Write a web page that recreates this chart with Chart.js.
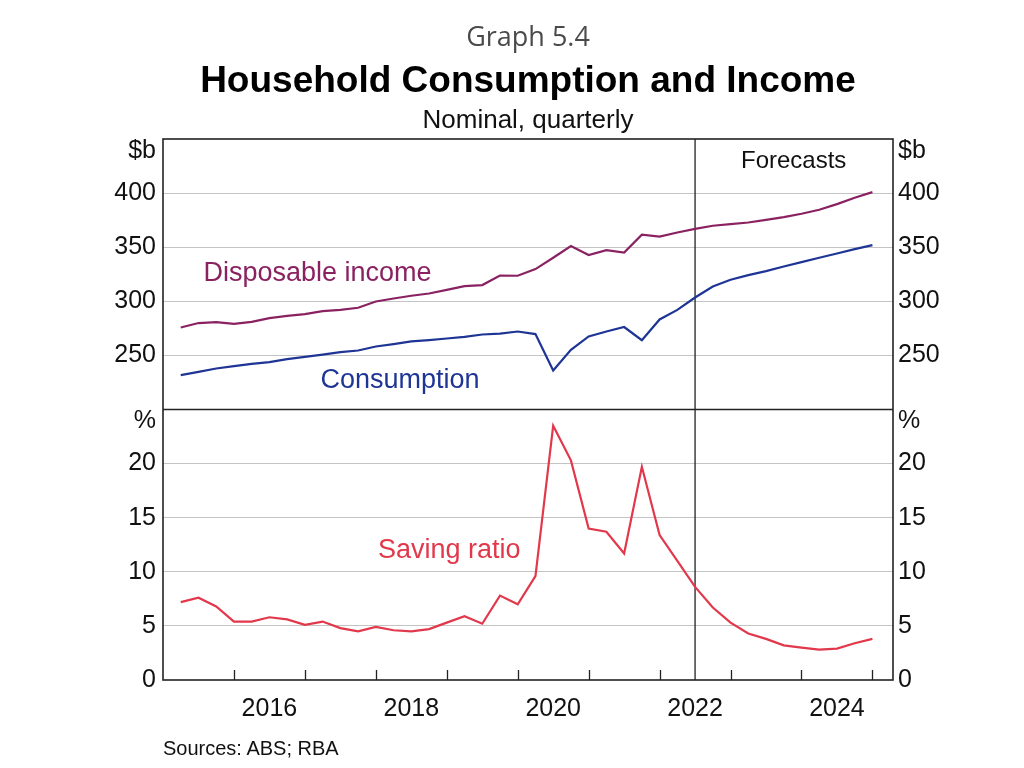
<!DOCTYPE html>
<html>
<head>
<meta charset="utf-8">
<script src="https://cdn.jsdelivr.net/npm/chart.js@4/dist/chart.umd.min.js"></script>
<style>
  html, body { margin: 0; padding: 0; background: #ffffff; width: 1024px; height: 768px; overflow: hidden; }
  #wrap { position: relative; width: 1024px; height: 768px; }
  canvas { position: absolute; left: 0; top: 0; }
  .t { position: absolute; left: 0; width: 1056px; text-align: center; white-space: nowrap; }
  #graphno { top: 16px; line-height: 40px; font-family: "Open Sans", sans-serif; font-size: 27px; color: #4a4a4a; }
  #title { top: 58px; line-height: 44px; font-family: "Liberation Sans", Arial, sans-serif; font-weight: bold; font-size: 37px; color: #000; }
  #subtitle { top: 103px; line-height: 32px; font-family: "Liberation Sans", Arial, sans-serif; font-size: 26px; color: #111; }
  #source { position: absolute; left: 163px; top: 735px; line-height: 26px; font-family: "Liberation Sans", Arial, sans-serif; font-size: 20px; color: #111; white-space: nowrap; }
</style>
</head>
<body>
<div id="wrap">
  <canvas id="c" width="1024" height="768"></canvas>
  <div class="t" id="graphno">Graph 5.4</div>
  <div class="t" id="title">Household Consumption and Income</div>
  <div class="t" id="subtitle">Nominal, quarterly</div>
  <div id="source">Sources: ABS; RBA</div>
</div>
<script>
// ---- Data ----
const quarters = [
  'Mar 2015','Jun 2015','Sep 2015','Dec 2015',
  'Mar 2016','Jun 2016','Sep 2016','Dec 2016',
  'Mar 2017','Jun 2017','Sep 2017','Dec 2017',
  'Mar 2018','Jun 2018','Sep 2018','Dec 2018',
  'Mar 2019','Jun 2019','Sep 2019','Dec 2019',
  'Mar 2020','Jun 2020','Sep 2020','Dec 2020',
  'Mar 2021','Jun 2021','Sep 2021','Dec 2021',
  'Mar 2022','Jun 2022','Sep 2022','Dec 2022',
  'Mar 2023','Jun 2023','Sep 2023','Dec 2023',
  'Mar 2024','Jun 2024','Sep 2024','Dec 2024'
];
const disposableIncome = [
  275.8, 279.9, 280.8, 279.2, 281.0, 284.5, 286.6, 288.2, 290.9, 292.1,
  294.0, 299.8, 302.6, 305.1, 307.2, 310.6, 314.0, 315.0, 323.8, 323.6,
  329.8, 340.2, 351.0, 342.7, 347.3, 345.1, 361.5, 359.8, 363.6, 367.0,
  369.8, 371.4, 372.8, 375.3, 377.8, 380.9, 384.6, 389.8, 395.7, 400.9
];
const consumption = [
  231.8, 234.8, 237.9, 240.1, 242.2, 243.8, 246.6, 248.7, 250.8, 253.0,
  254.5, 258.2, 260.4, 262.9, 264.1, 265.6, 267.2, 269.3, 270.2, 272.1,
  269.7, 236.0, 255.2, 267.5, 272.1, 276.2, 264.1, 283.2, 292.1, 303.5,
  313.7, 319.9, 324.2, 327.9, 332.2, 336.2, 340.2, 344.2, 348.2, 351.9
];
const savingRatio = [
  7.2, 7.6, 6.8, 5.4, 5.4, 5.8, 5.6, 5.1, 5.4, 4.8,
  4.5, 4.9, 4.6, 4.5, 4.7, 5.3, 5.9, 5.2, 7.8, 7.0,
  9.6, 23.5, 20.3, 14.0, 13.7, 11.7, 19.7, 13.4, 11.0, 8.6,
  6.7, 5.3, 4.3, 3.8, 3.2, 3.0, 2.8, 2.9, 3.4, 3.8
];
const xTickYears = [2016, 2017, 2018, 2019, 2020, 2021, 2022, 2023, 2024, 2025];
const xLabelYears = [2016, 2018, 2020, 2022, 2024];
const topTicks = [250, 300, 350, 400];
const bottomTicks = [0, 5, 10, 15, 20];
const forecastStart = 2022.5;

// ---- Helpers ----
const monthIdx = { Mar: 3, Jun: 6, Sep: 9, Dec: 12 };
function toYear(q) { const [m, y] = q.split(' '); return Number(y) + monthIdx[m] / 12; }
const xs = quarters.map(toYear);
const pts = arr => arr.map((v, i) => ({ x: xs[i], y: v }));

const C_INC = '#8a2262';
const C_CON = '#1f3595';
const C_SAV = '#e2384b';
const FONT = '"Liberation Sans", Arial, sans-serif';
const tickFont = { family: FONT, size: 25 };

const decor = {
  id: 'decor',
  beforeDatasetsDraw(chart) {
    const { ctx, chartArea, scales } = chart;
    const fx = scales.x.getPixelForValue(forecastStart);
    ctx.save();
    ctx.strokeStyle = '#222';
    ctx.lineWidth = 1.3;
    ctx.beginPath();
    ctx.moveTo(fx, chartArea.top);
    ctx.lineTo(fx, chartArea.bottom);
    ctx.stroke();
    ctx.restore();
  },
  afterDatasetsDraw(chart) {
    const { ctx, chartArea, scales } = chart;
    const { x, yTop, yBot } = scales;
    ctx.save();
    // frame + panel divider
    ctx.strokeStyle = '#222';
    ctx.lineWidth = 1.6;
    ctx.strokeRect(chartArea.left, chartArea.top, chartArea.right - chartArea.left, chartArea.bottom - chartArea.top);
    ctx.beginPath();
    ctx.moveTo(chartArea.left, yBot.top);
    ctx.lineTo(chartArea.right, yBot.top);
    ctx.stroke();
    // inward tick marks on the bottom axis
    ctx.lineWidth = 1.3;
    ctx.beginPath();
    xTickYears.forEach(yr => {
      const px = Math.round(x.getPixelForValue(yr)) + 0.5;
      ctx.moveTo(px, chartArea.bottom);
      ctx.lineTo(px, chartArea.bottom - 10);
    });
    ctx.stroke();

    // unit labels
    ctx.fillStyle = '#111';
    ctx.font = '25px ' + FONT;
    ctx.textBaseline = 'middle';
    ctx.textAlign = 'right';
    ctx.fillText('$b', chartArea.left - 7, yTop.top + 12);
    ctx.fillText('%', chartArea.left - 7, yBot.top + 12);
    ctx.textAlign = 'left';
    ctx.fillText('$b', chartArea.right + 5, yTop.top + 12);
    ctx.fillText('%', chartArea.right + 5, yBot.top + 12);

    // series labels
    ctx.font = '27px ' + FONT;
    ctx.textAlign = 'left';
    ctx.fillStyle = C_INC;
    ctx.fillText('Disposable income', x.getPixelForValue(2015.57), yTop.getPixelForValue(326));
    ctx.fillStyle = C_CON;
    ctx.fillText('Consumption', x.getPixelForValue(2017.22), yTop.getPixelForValue(226.5));
    ctx.fillStyle = C_SAV;
    ctx.fillText('Saving ratio', x.getPixelForValue(2018.03), yBot.getPixelForValue(12.0));
    ctx.font = '24px ' + FONT;
    ctx.textAlign = 'center';
    ctx.fillStyle = '#111';
    ctx.fillText('Forecasts', x.getPixelForValue(2023.89), yTop.getPixelForValue(428.9));
    ctx.restore();
  }
};

new Chart(document.getElementById('c'), {
  type: 'line',
  data: {
    datasets: [
      { label: 'Disposable income', data: pts(disposableIncome), yAxisID: 'yTop', borderColor: C_INC, borderWidth: 2.2, pointRadius: 0, tension: 0, fill: false },
      { label: 'Consumption', data: pts(consumption), yAxisID: 'yTop', borderColor: C_CON, borderWidth: 2.2, pointRadius: 0, tension: 0, fill: false },
      { label: 'Saving ratio', data: pts(savingRatio), yAxisID: 'yBot', borderColor: C_SAV, borderWidth: 2.2, pointRadius: 0, tension: 0, fill: false }
    ]
  },
  options: {
    responsive: false,
    animation: false,
    devicePixelRatio: 1,
    layout: { padding: { top: 139, left: 0, right: 0, bottom: 0 } },
    plugins: { legend: { display: false }, tooltip: { enabled: false }, title: { display: false } },
    scales: {
      x: {
        type: 'linear', position: 'bottom', min: 2015, max: 2025.29,
        afterBuildTicks: s => { s.ticks = xLabelYears.map(y => ({ value: y + 0.5 })); },
        ticks: { autoSkip: false, maxRotation: 0, padding: 14, color: '#111', font: tickFont, callback: v => String(Math.floor(v)) },
        grid: { display: false, drawTicks: false },
        border: { display: false },
        afterFit: s => { s.height = 88; }
      },
      // left-side stacked axes are laid out in reverse order, so the bottom panel is listed first
      yBot: {
        type: 'linear', position: 'left', stack: 'left', stackWeight: 1, min: 0, max: 25,
        afterBuildTicks: s => { s.ticks = bottomTicks.map(v => ({ value: v })); },
        ticks: { padding: 7, color: '#111', font: tickFont },
        grid: { color: ctx => (ctx.tick && ctx.tick.value === 0 ? 'rgba(0,0,0,0)' : '#c4c4c4'), lineWidth: 1, drawTicks: false },
        border: { display: false },
        afterFit: s => { s.width = 163; }
      },
      yTop: {
        type: 'linear', position: 'left', stack: 'left', stackWeight: 1, min: 200, max: 450,
        afterBuildTicks: s => { s.ticks = topTicks.map(v => ({ value: v })); },
        ticks: { padding: 7, color: '#111', font: tickFont },
        grid: { color: '#c4c4c4', lineWidth: 1, drawTicks: false },
        border: { display: false },
        afterFit: s => { s.width = 163; }
      },
      yTopR: {
        type: 'linear', position: 'right', stack: 'right', stackWeight: 1, min: 200, max: 450,
        afterBuildTicks: s => { s.ticks = topTicks.map(v => ({ value: v })); },
        ticks: { padding: 5, color: '#111', font: tickFont },
        grid: { display: false, drawTicks: false },
        border: { display: false },
        afterFit: s => { s.width = 131; }
      },
      yBotR: {
        type: 'linear', position: 'right', stack: 'right', stackWeight: 1, min: 0, max: 25,
        afterBuildTicks: s => { s.ticks = bottomTicks.map(v => ({ value: v })); },
        ticks: { padding: 5, color: '#111', font: tickFont },
        grid: { display: false, drawTicks: false },
        border: { display: false },
        afterFit: s => { s.width = 131; }
      }
    }
  },
  plugins: [decor]
});
</script>
</body>
</html>
